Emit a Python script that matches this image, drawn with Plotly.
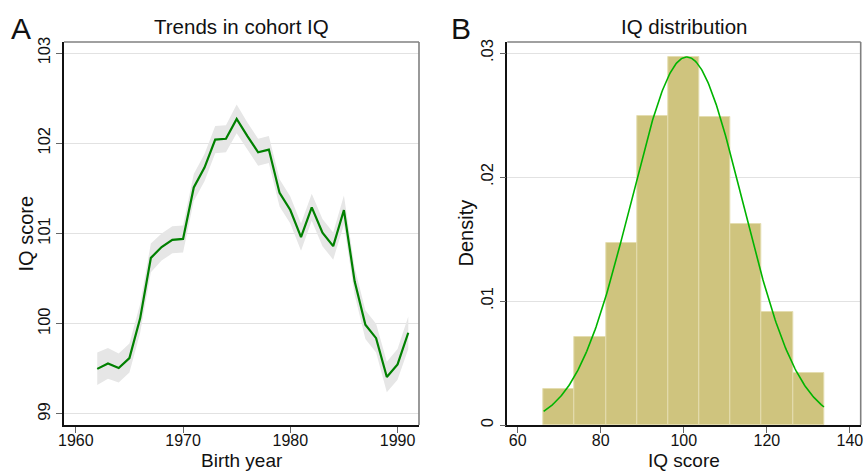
import numpy as np
import plotly.graph_objects as go

# ---- Data: Panel A (cohort IQ trend) ----
birth_year = list(range(1962, 1992))
iq_mean = [99.50, 99.56, 99.51, 99.62, 100.06, 100.73, 100.85, 100.93, 100.94, 101.51,
           101.73, 102.04, 102.05, 102.27, 102.08, 101.90, 101.93, 101.45, 101.26, 100.96,
           101.29, 101.01, 100.86, 101.26, 100.47, 99.99, 99.84, 99.41, 99.55, 99.90]
ci_half = [0.18, 0.17, 0.16, 0.16, 0.16, 0.16, 0.15, 0.15, 0.15, 0.15,
           0.15, 0.15, 0.15, 0.16, 0.15, 0.15, 0.15, 0.15, 0.15, 0.15,
           0.15, 0.15, 0.15, 0.16, 0.15, 0.16, 0.16, 0.17, 0.17, 0.18]

# ---- Data: Panel B (IQ histogram) ----
bin_left = [66.25, 73.75, 81.25, 88.75, 96.25, 103.75, 111.25, 118.75, 126.25]
bin_width = 7.5
density = [0.0029, 0.00707, 0.01465, 0.02494, 0.0297, 0.02481, 0.01618, 0.00914, 0.00419]
fit_mean = 100.73
fit_sd = 13.44

left_yticks = [99, 100, 101, 102, 103]
left_xticks = [1960, 1970, 1980, 1990]
right_yticks = [0, 0.01, 0.02, 0.03]
right_ytext = ["0", ".01", ".02", ".03"]
right_xticks = [60, 80, 100, 120, 140]

W, H = 865, 471
FONT = "Liberation Sans, Arial, sans-serif"

def px_x(p):
    return p / W

def px_y(p):
    return 1 - p / H

fig = go.Figure()

lower = [m - c for m, c in zip(iq_mean, ci_half)]
upper = [m + c for m, c in zip(iq_mean, ci_half)]
fig.add_trace(go.Scatter(x=birth_year, y=lower, mode="lines", line=dict(width=0, color="#e6e6e6"),
                         xaxis="x", yaxis="y", hoverinfo="skip"))
fig.add_trace(go.Scatter(x=birth_year, y=upper, mode="lines", line=dict(width=0, color="#e6e6e6"),
                         fill="tonexty", fillcolor="#e6e6e6", xaxis="x", yaxis="y", hoverinfo="skip"))
fig.add_trace(go.Scatter(x=birth_year, y=iq_mean, mode="lines", line=dict(width=2.2, color="#008000"),
                         xaxis="x", yaxis="y"))

centers = [b + bin_width / 2 for b in bin_left]
fig.add_trace(go.Bar(x=centers, y=density, width=bin_width,
                     marker=dict(color="#cfc47e", line=dict(color="#e4ddb0", width=1)),
                     xaxis="x2", yaxis="y2"))
xs = np.linspace(bin_left[0], bin_left[-1] + bin_width, 300)
pdf = np.exp(-0.5 * ((xs - fit_mean) / fit_sd) ** 2) / (fit_sd * np.sqrt(2 * np.pi))
fig.add_trace(go.Scatter(x=xs, y=pdf, mode="lines", line=dict(width=1.6, color="#00b400"),
                         xaxis="x2", yaxis="y2"))

tickfont = dict(family=FONT, size=16.5, color="#111111")
xtickfont = dict(family=FONT, size=16, color="#111111")
common_x = dict(showgrid=False, zeroline=False, showline=True, linecolor="#111111", linewidth=1.6,
                ticks="outside", ticklen=6, tickwidth=1.2, tickcolor="#666666", tickfont=xtickfont,
                automargin=False, ticklabelstandoff=-6)
common_y = dict(showgrid=True, gridcolor="#e2e2e2", gridwidth=1.3, zeroline=False, showline=True,
                linecolor="#111111", linewidth=1.6, ticks="outside", ticklen=6, tickwidth=1.2,
                tickcolor="#666666", tickfont=tickfont, tickangle=-90, automargin=False)

d1 = [px_x(64), px_x(419)]
d2 = [px_x(507.3), px_x(860.7)]
dy = [px_y(425), px_y(42)]

fig.update_layout(
    width=W, height=H, margin=dict(l=0, r=0, t=0, b=0, pad=0, autoexpand=False),
    paper_bgcolor="white", plot_bgcolor="white", showlegend=False,
    xaxis=dict(domain=d1, range=[1958.9, 1992.0], tickvals=left_xticks, anchor="y", **common_x),
    yaxis=dict(domain=dy, range=[98.878, 103.122], tickvals=left_yticks, anchor="x", **common_y),
    xaxis2=dict(domain=d2, range=[57.5, 142.6], tickvals=right_xticks, anchor="y2", **common_x),
    yaxis2=dict(domain=dy, range=[0, 0.03089], tickvals=right_yticks, ticktext=right_ytext,
                anchor="x2", **common_y),
    bargap=0,
)

# gray top/right frame lines
for xr, yr in [("x domain", "y domain"), ("x2 domain", "y2 domain")]:
    fig.add_shape(type="line", xref=xr, yref=yr, x0=0, x1=1, y0=1, y1=1,
                  line=dict(color="#808080", width=1.6))
    fig.add_shape(type="line", xref=xr, yref=yr, x0=1, x1=1, y0=0, y1=1,
                  line=dict(color="#808080", width=1.6))

def ann(text, x, y, size, xanchor="center", angle=0):
    fig.add_annotation(text=text, x=px_x(x), y=px_y(y), xref="paper", yref="paper",
                       showarrow=False, xanchor=xanchor, yanchor="middle", textangle=angle,
                       borderpad=0, font=dict(family=FONT, size=size, color="#111111"))

ann("A", 10, 29, 30, xanchor="left")
ann("B", 450, 29, 30, xanchor="left")
ann("Trends in cohort IQ", 241.5, 27, 20.5)
ann("IQ distribution", 684, 27, 20.5)
ann("Birth year", 242, 460, 19)
ann("IQ score", 684, 460, 19)
ann("IQ score", 25, 233.5, 20, angle=-90)
ann("Density", 465, 233.5, 20, angle=-90)

fig.write_html("out.html", config={"displayModeBar": False},
               post_script="document.body.style.margin='0';document.body.style.overflow='hidden';")
